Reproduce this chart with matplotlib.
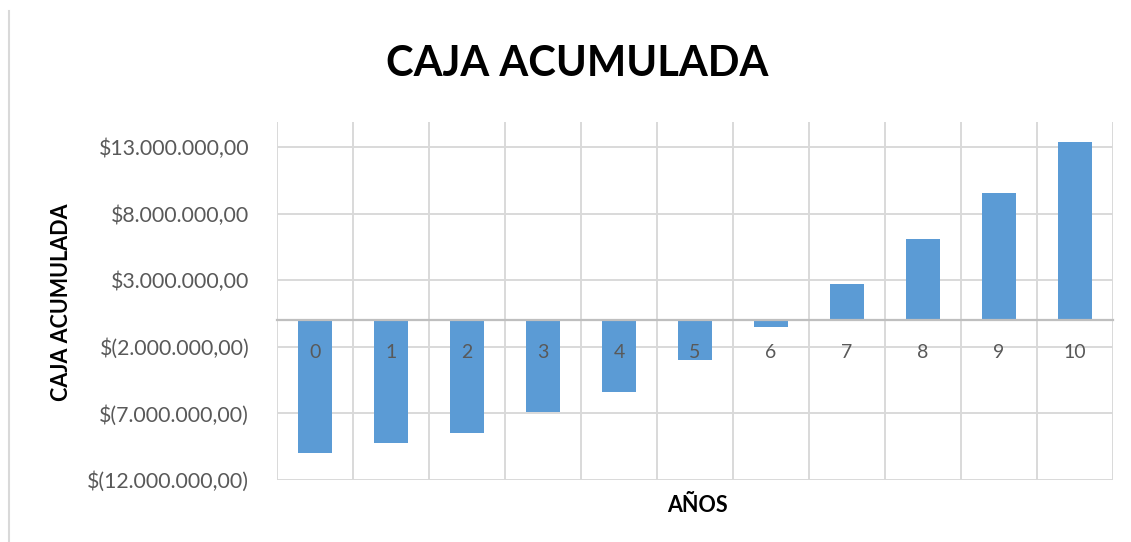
import matplotlib
matplotlib.use("Agg")
import matplotlib.pyplot as plt
from matplotlib.ticker import FuncFormatter, FixedLocator
from matplotlib.lines import Line2D

plt.rcParams['font.family'] = ['Lato', 'DejaVu Sans']

years = ['0', '1', '2', '3', '4', '5', '6', '7', '8', '9', '10']
caja_acumulada = [-9950000, -9200000, -8440000, -6920000, -5360000, -2980000,
                  -530000, 2740000, 6080000, 9560000, 13370000]
y_ticks = [-12000000, -7000000, -2000000, 3000000, 8000000, 13000000]

title = 'CAJA ACUMULADA'
y_label = 'CAJA ACUMULADA'
x_label = 'AÑOS'

bar_color = '#5b9bd5'
grid_color = '#d9d9d9'
text_color = '#595959'

fig = plt.figure(figsize=(11.31, 5.42), dpi=100)
W, H = 1131, 542
ax = fig.add_axes([277 / W, 1 - 480 / H, (1113 - 277) / W, (480 - 122) / H])

x = list(range(len(years)))
ax.bar(x, caja_acumulada, width=0.45, color=bar_color, zorder=2)

ax.set_xlim(-0.5, len(years) - 0.5)
ax.set_ylim(-12000000, 14900000)

def fmt(v, pos):
    s = f"{abs(v):,.2f}".replace(',', 'X').replace('.', ',').replace('X', '.')
    return f"$({s})" if v < 0 else f"${s}"

ax.yaxis.set_major_locator(FixedLocator(y_ticks))
ax.yaxis.set_major_formatter(FuncFormatter(fmt))
ax.tick_params(axis='y', length=0, pad=20, labelsize=15.3, labelcolor=text_color)

ax.set_xticks(x)
ax.set_xticklabels(years)
ax.tick_params(axis='x', length=0, pad=17, labelsize=14, labelcolor=text_color)
ax.spines['bottom'].set_position(('data', 0))
ax.spines['bottom'].set_color('#bfbfbf')
ax.spines['bottom'].set_linewidth(1.6)
for s in ['top', 'right', 'left']:
    ax.spines[s].set_visible(False)

# grid: horizontal at ticks, vertical at category boundaries
ax.grid(axis='y', color=grid_color, linewidth=1.4)
ax.set_axisbelow(True)
ax.xaxis.set_zorder(4)
ax.spines['bottom'].set_zorder(3)
for b in [i - 0.5 for i in range(len(years) + 1)]:
    ax.axvline(b, color=grid_color, linewidth=1.4, zorder=0)

fig.text(577 / W, 1 - 64 / H, title, ha='center', va='center',
         fontsize=30, fontweight='bold', color='black')
fig.text(62 / W, 1 - 302 / H, y_label, ha='center', va='center', rotation=90,
         fontsize=15.5, fontweight='bold', color='black')
fig.text(697 / W, 1 - 505 / H, x_label, ha='center', va='center',
         fontsize=15.5, fontweight='bold', color='black')

fig.lines.append(Line2D([8.5 / W, 8.5 / W], [0, 1 - 11 / H], transform=fig.transFigure,
                        color=grid_color, linewidth=1.5))

fig.savefig('out.png', dpi=100)
